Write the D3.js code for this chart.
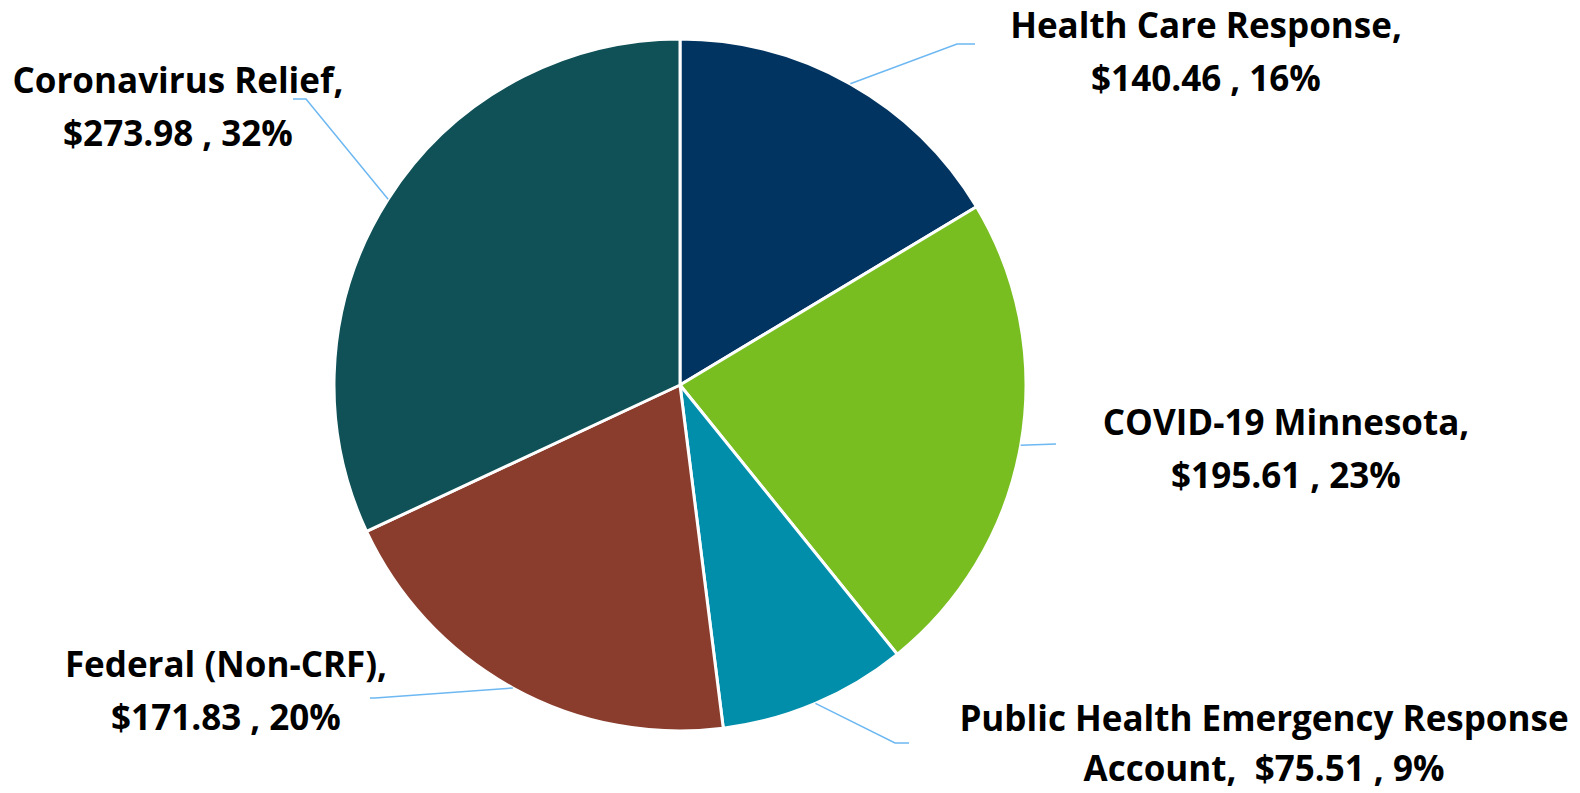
<!DOCTYPE html>
<html><head><meta charset="utf-8">
<script src="https://cdn.jsdelivr.net/npm/d3@7"></script>
<style>html,body{margin:0;padding:0;background:#fff;}svg{display:block;}text{white-space:pre;}</style>
</head><body>
<svg id="chart" width="1580" height="793"></svg>
<script>
// ---- data ----
const categories = ["Health Care Response", "COVID-19 Minnesota", "Public Health Emergency Response Account", "Federal (Non-CRF)", "Coronavirus Relief"];
const values = [140.46, 195.61, 75.51, 171.83, 273.98];
const percents = ["16%", "23%", "9%", "20%", "32%"];
const labelLines = [
  ["Health Care Response,", "$140.46 , 16%"],
  ["COVID-19 Minnesota,", "$195.61 , 23%"],
  ["Public Health Emergency Response", "Account,  $75.51 , 9%"],
  ["Federal (Non-CRF),", "$171.83 , 20%"],
  ["Coronavirus Relief,", "$273.98 , 32%"]
];
const colors = ["#023461", "#78BE21", "#008EAA", "#8A3D2D", "#0F5157"];

// ---- layout ----
const cx = 680, cy = 385, R = 346;
const labelPos = [
  {x: 1206, y: 38, gap: 53, elbow: [957, 44], end: [975, 44]},
  {x: 1286, y: 435, gap: 53, elbow: [1056, 444], end: [1056, 444]},
  {x: 1264, y: 731, gap: 50, elbow: [895, 743], end: [909, 743]},
  {x: 226, y: 677, gap: 53, elbow: [375, 698], end: [370, 698]},
  {x: 178, y: 93, gap: 53, elbow: [306, 99], end: [293, 99]}
];

const svg = d3.select("#chart");
const g = svg.append("g").attr("transform", `translate(${cx},${cy})`);
const pie = d3.pie().sort(null).value(d => d)(values);
const arc = d3.arc().innerRadius(0).outerRadius(R);

g.selectAll("path.slice").data(pie).join("path")
  .attr("class", "slice")
  .attr("d", arc)
  .attr("fill", (d, i) => colors[i])
  .attr("stroke", "#fff")
  .attr("stroke-width", 3)
  .attr("stroke-linejoin", "round");

pie.forEach((d, i) => {
  const a = (d.startAngle + d.endAngle) / 2;
  const sx = cx + R * Math.sin(a), sy = cy - R * Math.cos(a);
  const p = labelPos[i];
  svg.append("polyline")
    .attr("points", [[sx, sy], p.elbow, p.end].map(q => q.join(",")).join(" "))
    .attr("fill", "none")
    .attr("stroke", "#6DB8F2")
    .attr("stroke-width", 1.5);
});

labelLines.forEach((lines, i) => {
  const p = labelPos[i];
  const t = svg.append("text")
    .attr("text-anchor", "middle")
    .attr("font-family", "'Open Sans', sans-serif")
    .attr("font-weight", "bold")
    .attr("font-size", 35)
    .attr("fill", "#000");
  lines.forEach((ln, j) => {
    t.append("tspan").attr("x", p.x).attr("y", p.y + j * p.gap).text(ln);
  });
});
</script>
</body></html>
